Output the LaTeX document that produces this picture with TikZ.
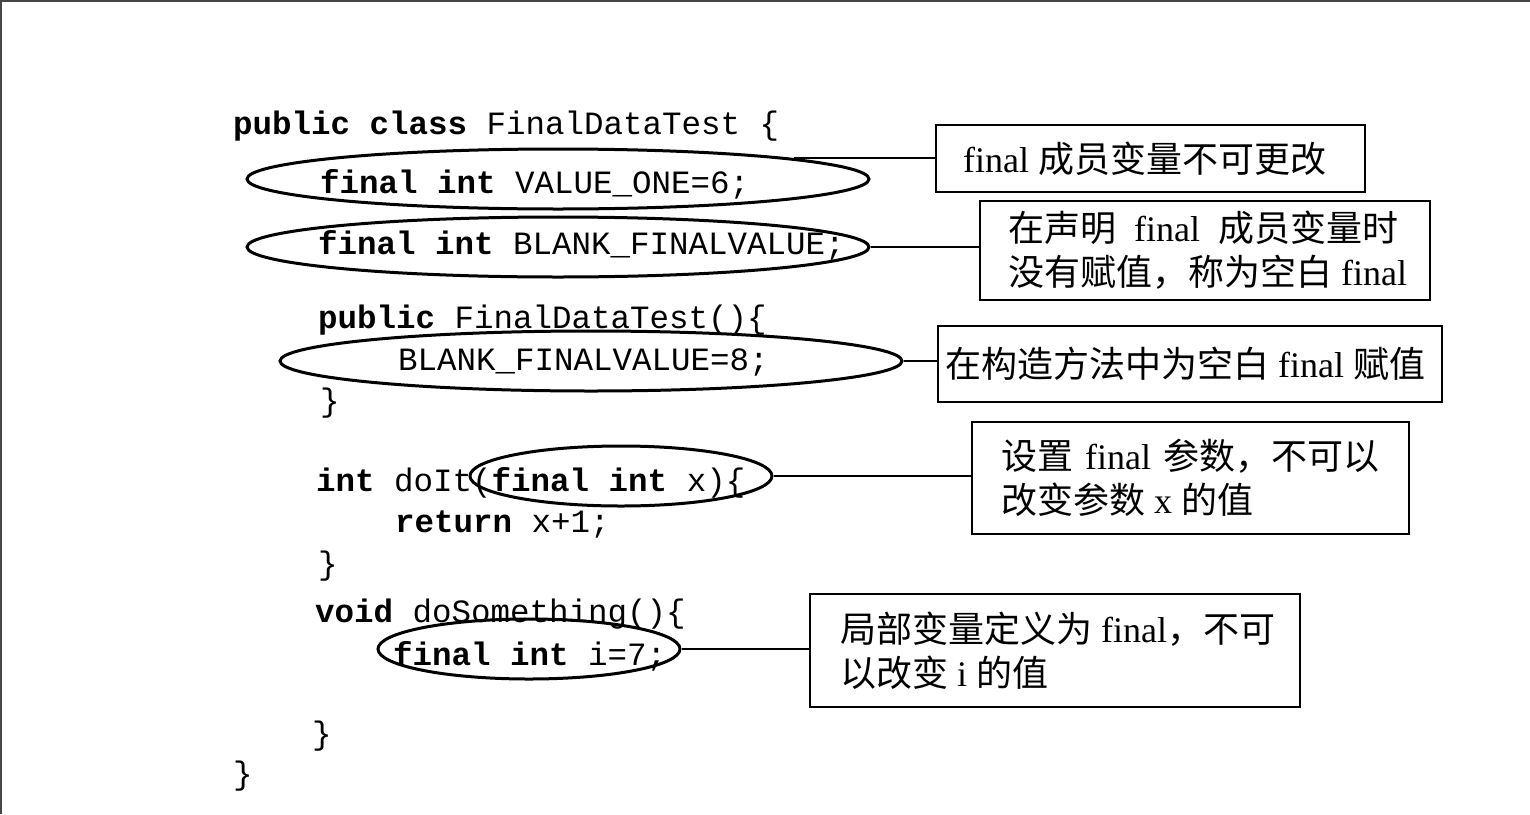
\documentclass[tikz,border=0pt]{standalone}
\usepackage{fontspec}
\setmainfont{Liberation Serif}
\newfontfamily\cjk{Noto Sans CJK SC}
\newfontfamily\codefont{Liberation Mono}
\usetikzlibrary{shapes.geometric}
\begin{document}
\begin{tikzpicture}[x=1pt,y=-1pt,
  code/.style={anchor=base west, inner sep=0pt, font=\codefont\fontsize{32.5}{36}\selectfont},
  oval/.style={ellipse, draw, line width=3pt, minimum height=60pt, inner sep=0pt},
  note/.style={draw, line width=2pt, anchor=north west, inner sep=0pt},
  txt/.style={anchor=west, inner sep=0pt, align=left, font=\fontsize{36}{44}\selectfont},
  link/.style={line width=2pt},
  frame/.style={line width=2pt, draw=black!72}]
\useasboundingbox (0,0) rectangle (1530,814);
\draw[frame] (0,1) -- (1530,1);
\draw[frame] (1,0) -- (1,814);

% code
\node[code] (l1) at (233,134) {\textbf{public class} FinalDataTest \{};
\node[code] (l2) at (320,193) {\textbf{final int} VALUE\_ONE=6;};
\node[code] (l3) at (318,254) {\textbf{final int} BLANK\_FINALVALUE;};
\node[code] (l4) at (318,328) {\textbf{public} FinalDataTest()\{};
\node[code] (l5) at (398,370) {BLANK\_FINALVALUE=8;};
\node[code] (l6) at (320,411) {\}};
\node[code] (l7) at (316,491) {\textbf{int} doIt(\textbf{final int} x)\{};
\node[code] (l8) at (395,532) {\textbf{return} x+1;};
\node[code] (l9) at (318,574) {\}};
\node[code] (l10) at (315,622) {\textbf{void} doSomething()\{};
\node[code] (l11) at (393,665) {\textbf{final int} i=7;};
\node[code] (l12) at (312,744) {\}};
\node[code] (l13) at (233,784) {\}};

% ellipses
\node[oval, minimum width=622pt] (e1) at (558,179) {};
\node[oval, minimum width=622pt] (e2) at (558,247) {};
\node[oval, minimum width=622pt] (e3) at (591,361) {};
\node[oval, minimum width=302pt] (e4) at (621,476) {};
\node[oval, minimum width=302pt] (e5) at (529,649) {};

% notes
\node[note, minimum width=429pt, minimum height=67pt] (b1) at (935,124) {};
\node[note, minimum width=450pt, minimum height=99pt] (b2) at (979,200) {};
\node[note, minimum width=504pt, minimum height=76pt] (b3) at (937,325) {};
\node[note, minimum width=437pt, minimum height=112pt] (b4) at (971,421) {};
\node[note, minimum width=490pt, minimum height=113pt] (b5) at (809,593) {};

\node[txt] (t1) at ([xshift=28pt]b1.west) {final {\cjk 成员变量不可更改}};
\node[txt] (t2) at ([xshift=29pt]b2.west) {{\cjk 在声明}\hspace{18pt}final\hspace{18pt}{\cjk 成员变量时}\\{\cjk 没有赋值，称为空白} final};
\node[txt] (t3) at ([xshift=8pt]b3.west) {{\cjk 在构造方法中为空白} final {\cjk 赋值}};
\node[txt] (t4) at ([xshift=30pt]b4.west) {{\cjk 设置}\hspace{12pt}final\hspace{12pt}{\cjk 参数，不可以}\\{\cjk 改变参数} x {\cjk 的值}};
\node[txt] (t5) at ([xshift=31pt]b5.west) {{\cjk 局部变量定义为} final{\cjk ，不可}\\{\cjk 以改变} i {\cjk 的值}};

% connectors
\draw[link] (e1.5.4) -- (e1.5.4 -| b1.west);
\draw[link] (e2.east) -- (e2.east -| b2.west);
\draw[link] (e3.east) -- (e3.east -| b3.west);
\draw[link] (e4.east) -- (e4.east -| b4.west);
\draw[link] (e5.east) -- (e5.east -| b5.west);
\end{tikzpicture}
\end{document}
